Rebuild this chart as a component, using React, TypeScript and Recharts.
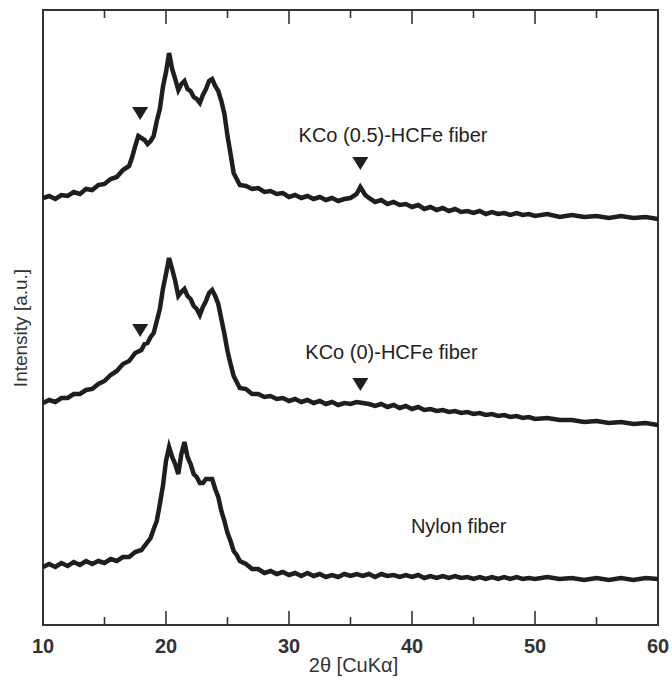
import { LineChart, Line, XAxis, YAxis, ReferenceArea, ReferenceLine, ReferenceDot, Label } from 'recharts';

// 2θ / intensity pairs (intensity in arbitrary units, offsets included)
const kco05: [number, number][] = [
  [10,427],[10.5,429],[11,426],[11.5,430],[12,429],[12.5,433],[13,431],[13.5,436],[14,435],[14.5,440],[15,441],[15.5,446],
  [16,448],[16.5,455],[17,459],[17.25,468],[17.5,479],[17.75,489],[18,487],[18.25,485],[18.5,481],[18.75,484],[19,489],
  [19.25,504],[19.5,516],[19.75,538],[20,553],[20.25,572],[20.5,556],[20.75,546],[21,535],[21.25,541],[21.5,544],[21.75,536],
  [22,534],[22.25,528],[22.5,526],[22.75,522],[23,530],[23.25,536],[23.5,544],[23.75,546],[24,539],[24.25,534],[24.5,524],
  [24.75,511],[25,489],[25.25,471],[25.5,452],[25.75,446],[26,440],[26.5,439],[27,436],[27.5,437],[28,433],[28.5,434],
  [29,431],[29.5,432],[30,428],[30.5,430],[31,427],[31.5,429],[32,426],[32.5,428],[33,425],[33.5,427],[34,424],[34.5,426],
  [35,427],[35.5,431],[35.8,438],[36.2,430],[36.5,427],[37,423],[37.5,425],[38,421],[38.5,423],[39,420],[39.5,421],[40,418],
  [40.5,420],[41,416],[41.5,418],[42,415],[42.5,417],[43,414],[43.5,416],[44,413],[44.5,414],[45,412],[45.5,414],[46,411],
  [46.5,413],[47,411],[47.5,412],[48,410],[48.5,412],[49,410],[49.5,411],[50,409],[51,411],[52,408],[53,410],[54,408],
  [55,409],[56,407],[57,409],[58,407],[59,408],[60,406],
];

const kco0: [number, number][] = [
  [10,222],[10.5,225],[11,223],[11.5,227],[12,227],[12.5,231],[13,231],[13.5,235],[14,236],[14.5,241],[15,244],[15.5,250],
  [16,254],[16.5,261],[17,264],[17.5,272],[18,275],[18.25,281],[18.5,282],[18.75,288],[19,292],[19.25,304],[19.5,316],
  [19.75,336],[20,351],[20.25,367],[20.5,356],[20.75,344],[21,329],[21.25,333],[21.5,336],[21.75,329],[22,326],[22.25,319],
  [22.5,316],[22.75,310],[23,318],[23.25,324],[23.5,332],[23.75,335],[24,329],[24.25,321],[24.5,306],[24.75,291],[25,274],
  [25.25,261],[25.5,249],[25.75,243],[26,237],[26.5,236],[27,231],[27.5,231],[28,228],[28.5,229],[29,226],[29.5,227],
  [30,224],[30.5,226],[31,223],[31.5,225],[32,222],[32.5,224],[33,221],[33.5,223],[34,220],[34.5,222],[35,221],[35.5,223],
  [36,222],[36.5,221],[37,219],[37.5,221],[38,218],[38.5,220],[39,217],[39.5,219],[40,216],[40.5,218],[41,215],[41.5,216],
  [42,214],[42.5,215],[43,213],[43.5,214],[44,212],[44.5,213],[45,211],[45.5,212],[46,210],[46.5,211],[47,209],[47.5,210],
  [48,208],[48.5,209],[49,207],[49.5,208],[50,206],[51,207],[52,205],[53,205],[54,203],[55,204],[56,202],[57,203],
  [58,201],[59,202],[60,200],
];

const nylon: [number, number][] = [
  [10,58],[10.5,61],[11,58],[11.5,62],[12,59],[12.5,63],[13,60],[13.5,64],[14,61],[14.5,64],[15,62],[15.5,66],[16,64],
  [16.5,68],[17,68],[17.5,73],[18,75],[18.5,83],[18.75,87],[19,96],[19.25,104],[19.5,121],[19.75,139],[20,164],[20.25,178],
  [20.5,168],[20.75,161],[21,151],[21.25,171],[21.5,183],[21.75,168],[22,161],[22.25,151],[22.5,148],[22.75,142],[23,142],
  [23.25,146],[23.5,146],[23.75,146],[24,136],[24.25,128],[24.5,114],[24.75,104],[25,92],[25.25,84],[25.5,74],[25.75,70],
  [26,64],[26.5,61],[27,56],[27.5,56],[28,52],[28.5,54],[29,51],[29.5,53],[30,50],[30.5,52],[31,49],[31.5,52],[32,49],
  [32.5,51],[33,48],[33.5,50],[34,48],[34.5,51],[35,49],[35.5,51],[36,49],[36.5,51],[37,48],[37.5,51],[38,49],[38.5,50],
  [39,48],[39.5,50],[40,48],[40.5,50],[41,47],[41.5,49],[42,47],[42.5,49],[43,47],[43.5,49],[44,47],[44.5,48],[45,46],
  [45.5,48],[46,46],[46.5,48],[47,46],[47.5,48],[48,46],[48.5,48],[49,46],[49.5,47],[50,46],[51,48],[52,46],[53,47],
  [54,45],[55,47],[56,45],[57,47],[58,45],[59,47],[60,46],
];

const xTicks = [10, 20, 30, 40, 50, 60];
const majorTicks = [20, 30, 40, 50];
const minorTicks = [15, 25, 35, 45, 55];

// sample name labels: [2θ, intensity, text]
const sampleLabels: [number, number, string][] = [
  [38.46, 483, 'KCo (0.5)-HCFe fiber'],
  [38.33, 266, 'KCo (0)-HCFe fiber'],
  [43.8, 92, 'Nylon fiber'],
];

// ▼ markers over the HCFe reflections: [2θ, intensity]
const markers: [number, number][] = [
  [17.9, 512],
  [35.8, 462],
  [17.9, 295],
  [35.8, 241],
];

const Y_MAX = 615;
const FONT = '"Liberation Sans", Arial, sans-serif';
const INK = '#1e1e1e';

const toRows = (pts: [number, number][]) => pts.map(([x, y]) => ({ x, y }));

const Triangle = (props: any) => {
  const { cx, cy } = props;
  return <path d={`M${cx - 8},${cy - 6} L${cx + 8},${cy - 6} L${cx},${cy + 7} Z`} fill={INK} />;
};

const YTitle = (props: any) => {
  const { cx, cy } = props;
  return (
    <text
      x={0}
      y={0}
      transform={`translate(${cx - 16},${cy}) rotate(-90)`}
      textAnchor="middle"
      fontSize={19}
      fill="#333"
      fontFamily={FONT}
    >
      Intensity [a.u.]
    </text>
  );
};

export default function App() {
  const series = [kco05, kco0, nylon];
  return (
    <div style={{ position: 'absolute', left: 0, top: 0, width: 672, height: 681, background: '#fff' }}>
      <LineChart width={672} height={681} margin={{ top: 10, right: 14, left: 43, bottom: 0 }}>
        <XAxis
          type="number"
          dataKey="x"
          domain={[10, 60]}
          ticks={xTicks}
          height={56}
          axisLine={false}
          tickLine={false}
          tickSize={0}
          tickMargin={14}
          tick={{ fontSize: 20, fill: '#333', fontFamily: FONT, fontWeight: 600 }}
          allowDataOverflow
        >
          <Label
            content={(p: any) => {
              const vb = p.viewBox;
              return (
                <text x={vb.x + vb.width / 2 + 3} y={672} textAnchor="middle" fontSize={20} fill="#333" fontFamily={FONT}>
                  2θ [CuKα]
                </text>
              );
            }}
          />
        </XAxis>
        <YAxis type="number" domain={[0, Y_MAX]} hide />

        {series.map((s, i) => (
          <Line
            key={i}
            data={toRows(s)}
            dataKey="y"
            type="linear"
            stroke={INK}
            strokeWidth={4.5}
            dot={false}
            activeDot={false}
            isAnimationActive={false}
          />
        ))}

        <ReferenceArea x1={10} x2={60} y1={0} y2={Y_MAX} fill="none" stroke="#333" strokeWidth={2} ifOverflow="visible" />

        {majorTicks.map((t) => (
          <ReferenceLine key={`bM${t}`} segment={[{ x: t, y: 0 }, { x: t, y: 14 }]} stroke="#333" strokeWidth={1.6} />
        ))}
        {minorTicks.map((t) => (
          <ReferenceLine key={`bm${t}`} segment={[{ x: t, y: 0 }, { x: t, y: 8 }]} stroke="#333" strokeWidth={1.6} />
        ))}
        {majorTicks.map((t) => (
          <ReferenceLine key={`tM${t}`} segment={[{ x: t, y: Y_MAX }, { x: t, y: Y_MAX - 14 }]} stroke="#333" strokeWidth={1.6} />
        ))}
        {minorTicks.map((t) => (
          <ReferenceLine key={`tm${t}`} segment={[{ x: t, y: Y_MAX }, { x: t, y: Y_MAX - 8 }]} stroke="#333" strokeWidth={1.6} />
        ))}

        {markers.map(([x, y], i) => (
          <ReferenceDot key={`m${i}`} x={x} y={y} r={0} shape={Triangle} ifOverflow="visible" />
        ))}

        {sampleLabels.map(([x, y, text]) => (
          <ReferenceDot
            key={text}
            x={x}
            y={y}
            r={0}
            ifOverflow="visible"
            shape={(p: any) => (
              <text x={p.cx} y={p.cy} textAnchor="middle" fontSize={20} fill="#222" fontFamily={FONT}>
                {text}
              </text>
            )}
          />
        ))}

        <ReferenceDot x={10} y={297} r={0} ifOverflow="visible" shape={YTitle} />
      </LineChart>
    </div>
  );
}
